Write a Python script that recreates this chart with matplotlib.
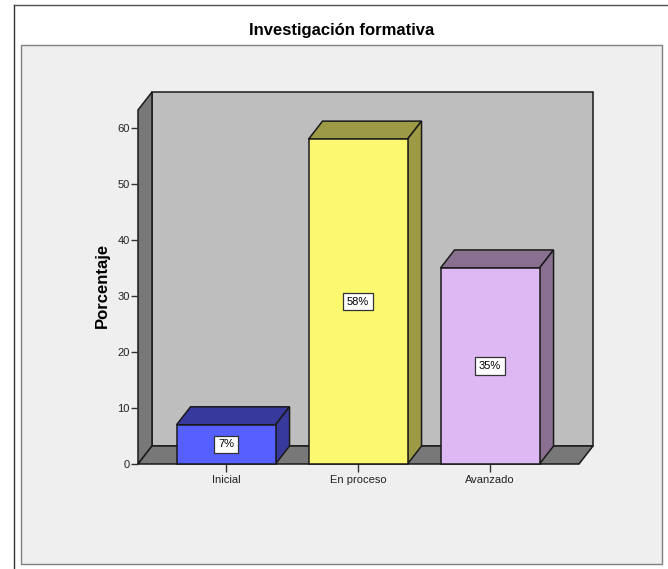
#!/usr/bin/env python
import matplotlib
matplotlib.use("Agg")
import matplotlib.pyplot as plt
from matplotlib.lines import Line2D
from matplotlib.patches import Polygon, Rectangle

plt.rcParams["font.family"] = ["Liberation Sans", "DejaVu Sans"]

categories = ["Inicial", "En proceso", "Avanzado"]
values = [7, 58, 35]
labels = ["7%", "58%", "35%"]
y_ticks = [0, 10, 20, 30, 40, 50, 60]
front_colors = ["#5560FF", "#FCF86F", "#DDB8F2"]
dark_colors = ["#38399C", "#9C9A45", "#8A7090"]

W, H = 668, 569
WALL = "#BEBEBE"
SIDE = "#787878"
EDGE = "#1A1A1A"


def fx(px):
    return px / W


def fy(py):
    return 1 - py / H


fig = plt.figure(figsize=(W / 100, H / 100), dpi=100, facecolor="white")

# outer frame and light panel
fig.add_artist(Line2D([fx(13.5), fx(13.5)], [fy(5), fy(569)], color="#303030", lw=1.0, zorder=-2))
fig.add_artist(Line2D([fx(13.5), fx(668)], [fy(5), fy(5)], color="#505050", lw=1.0, zorder=-2))
fig.add_artist(Rectangle((fx(20.5), fy(563.5)), fx(641.5), fy(44.5) - fy(563.5),
                         facecolor="#EFEFEF", edgecolor="#808080", lw=1.0, zorder=-1))
fig.text(fx(341.5), fy(31), "Investigación formativa", ha="center", va="center",
         fontsize=12, color="black", fontweight="bold")

# axes = front plane of the 3d box
ax = fig.add_axes([fx(138), fy(464), fx(441), fy(110) - fy(464)])
ax.set_xlim(-0.667, 2.674)
ax.set_ylim(0, 63.2)
ax.patch.set_visible(False)
for spine in ax.spines.values():
    spine.set_visible(False)

dx = 14 / 132
dy = 18 / 5.6
x0, x1 = ax.get_xlim()
y0, y1 = ax.get_ylim()


def poly(points, face, z=2, lw=1.1):
    ax.add_patch(Polygon(points, closed=True, facecolor=face, edgecolor=EDGE, lw=lw,
                         joinstyle="miter", clip_on=False, zorder=z))


# back wall, left wall, floor
poly([(x0 + dx, y0 + dy), (x1 + dx, y0 + dy), (x1 + dx, y1 + dy), (x0 + dx, y1 + dy)], WALL, z=1)
poly([(x0, y0), (x0 + dx, y0 + dy), (x0 + dx, y1 + dy), (x0, y1)], SIDE, z=1)
poly([(x0, y0), (x1, y0), (x1 + dx, y0 + dy), (x0 + dx, y0 + dy)], SIDE, z=1)

bar_w = 0.75
for i, (val, lab) in enumerate(zip(values, labels)):
    l, r = i - bar_w / 2, i + bar_w / 2
    poly([(l, val), (r, val), (r + dx, val + dy), (l + dx, val + dy)], dark_colors[i], z=3)
    poly([(r, 0), (r + dx, dy), (r + dx, val + dy), (r, val)], dark_colors[i], z=3)
    poly([(l, 0), (r, 0), (r, val), (l, val)], front_colors[i], z=4)
    ax.text(i, val / 2, lab, ha="center", va="center", fontsize=8, color="black", zorder=5,
            bbox=dict(boxstyle="square,pad=0.33", facecolor="white", edgecolor="#333333", lw=0.9))

ax.set_xticks(range(len(categories)))
ax.set_xticklabels(categories)
ax.set_yticks(y_ticks)
ax.tick_params(axis="x", labelsize=8, length=5.5, width=1.0, color="#333333",
               labelcolor="#222222", pad=2.5)
ax.tick_params(axis="y", labelsize=8, length=5, width=1.0, color="#333333",
               labelcolor="#222222", pad=0.8)
ax.set_ylabel("Porcentaje", fontsize=12, fontweight="bold")
ax.yaxis.set_label_coords((110 - 138) / 441, (464 - 285) / 354)

fig.savefig("out.png", dpi=100, facecolor=fig.get_facecolor())
